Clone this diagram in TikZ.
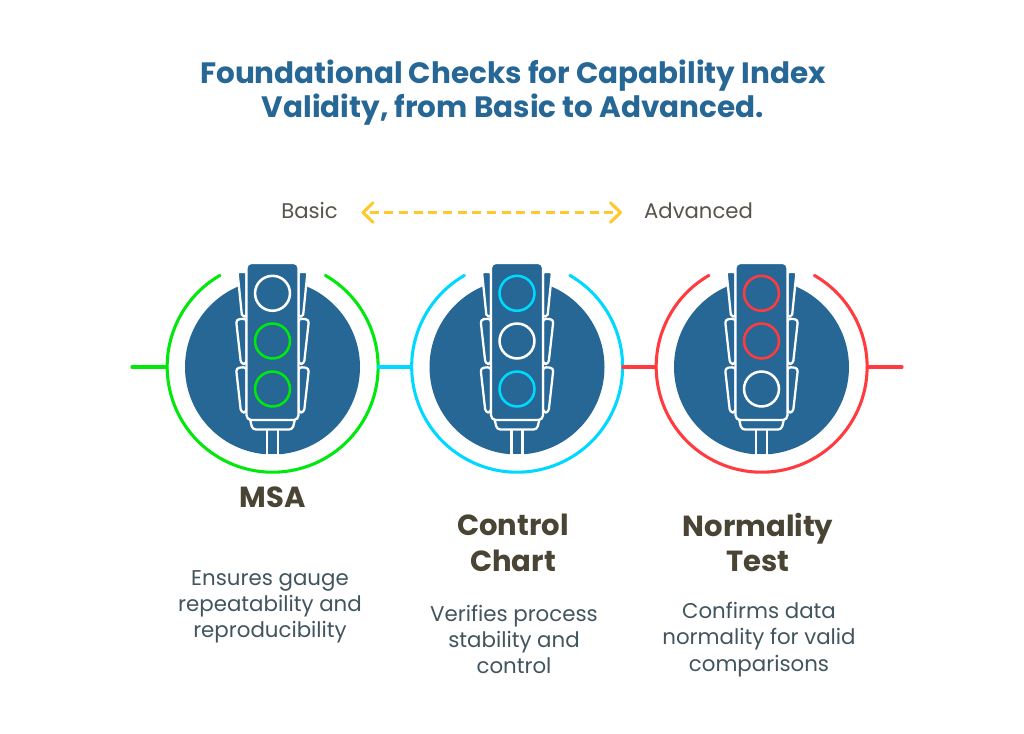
\documentclass[tikz,border=0pt]{standalone}
\usepackage{fontspec}
\setmainfont{Poppins}
\definecolor{signalblue}{HTML}{266796}
\definecolor{signalgreen}{HTML}{00E80C}
\definecolor{signalcyan}{HTML}{00D9FF}
\definecolor{signalred}{HTML}{FF3B3F}
\definecolor{arrowgold}{HTML}{FFC82E}
\definecolor{headtext}{HTML}{4A4435}
\definecolor{bodytext}{HTML}{42555F}
\definecolor{scaletext}{HTML}{58544A}
\tikzset{
  x=0.75pt,y=-0.75pt,
  disc/.style={circle,fill=signalblue,minimum size=131.25pt,inner sep=0pt},
  ringanchor/.style={circle,minimum size=158.25pt,inner sep=0pt},
  lamp/.style={circle,draw=#1,line width=1.9pt,minimum size=26.2pt,inner sep=0pt},
  housing/.style={fill=signalblue,draw=white,line width=1.7pt,line join=round},
  ringline/.style={line width=2.3pt,line cap=round},
  titletext/.style={font=\fontsize{22.1}{26}\selectfont\bfseries,text=signalblue,align=center,anchor=center},
  headlabel/.style={font=\fontsize{21.8}{26.6}\selectfont\bfseries,text=headtext,align=center},
  bodylabel/.style={font=\fontsize{16}{19.7}\selectfont,text=bodytext,align=center},
  scalelabel/.style={font=\fontsize{15.9}{18}\selectfont,text=scaletext},
  goldline/.style={arrowgold,line width=2.3pt},
}
% #1 name #2 centre x #3 ring colour #4,#5,#6 lamp colours
\newcommand{\signalunit}[6]{%
  \node[disc] (disc#1) at (#2,367) {};
  \node[ringanchor] (ring#1) at (#2,367) {};
  \draw[#3,ringline] (ring#1.60) arc[start angle=60,end angle=-240,radius=79.1pt];
  \begin{scope}[shift={(#2,0)}]
    \draw[housing,rounded corners=1.5pt] (-35,272) -- (-26,272) -- (-26,316.5) -- (-30.5,316.5) -- cycle;
    \draw[housing,rounded corners=1.5pt] (35,272) -- (26,272) -- (26,316.5) -- (30.5,316.5) -- cycle;
    \draw[housing,rounded corners=2.5pt] (-36.5,319.5) -- (-26,318.5) -- (-26,364) -- (-31.5,364) -- cycle;
    \draw[housing,rounded corners=2.5pt] (36.5,319.5) -- (26,318.5) -- (26,364) -- (31.5,364) -- cycle;
    \draw[housing,rounded corners=2.5pt] (-36.5,368) -- (-26,367) -- (-26,412.5) -- (-31.5,412.5) -- cycle;
    \draw[housing,rounded corners=2.5pt] (36.5,368) -- (26,367) -- (26,412.5) -- (31.5,412.5) -- cycle;
    \draw[housing] (-5.5,428) rectangle (5.5,455);
    \draw[housing,rounded corners=2.5pt] (-23,417) -- (-20,429.5) -- (20,429.5) -- (23,417) -- cycle;
    \draw[housing,rounded corners=3.5pt] (-26,263) rectangle (26,420);
    \node[lamp=#4] (lamp#1a) at (0,293.3) {};
    \node[lamp=#5] (lamp#1b) at (0,341) {};
    \node[lamp=#6] (lamp#1c) at (0,389) {};
  \end{scope}
}
\begin{document}
\begin{tikzpicture}
\useasboundingbox (0,0) rectangle (1024,734);
\fill[white] (0,0) rectangle (1024,734);
\signalunit{A}{272.5}{signalgreen}{white}{signalgreen}{signalgreen}
\signalunit{B}{517}{signalcyan}{signalcyan}{white}{signalcyan}
\signalunit{C}{761.5}{signalred}{signalred}{signalred}{white}
\coordinate (leftend) at (132,367);
\coordinate (rightend) at (902,367);
\draw[signalgreen,ringline] (leftend) -- (ringA.west);
\draw[signalcyan,ringline] (ringA.east) -- (ringB.west);
\draw[signalred,ringline] (ringB.east) -- (ringC.west);
\draw[signalred,ringline] (ringC.east) -- (rightend);
\node[titletext] (title) at (513,92.5) {Foundational Checks for Capability Index\\Validity, from Basic to Advanced.};
\node[scalelabel] (basic) at (309.5,211) {Basic};
\node[scalelabel] (advanced) at (698.5,211) {Advanced};
\coordinate (arrowL) at (363,212.5);
\coordinate (arrowR) at (620.5,212.5);
\draw[goldline,dash pattern=on 6.8pt off 4.2pt] ([xshift=5pt]arrowL) -- ([xshift=-5pt]arrowR);
\draw[goldline,line cap=round,line join=round] ([shift={(7.5pt,-7.3pt)}]arrowL) -- (arrowL) -- ([shift={(7.5pt,7.3pt)}]arrowL);
\draw[goldline,line cap=round,line join=round] ([shift={(-7.5pt,-7.3pt)}]arrowR) -- (arrowR) -- ([shift={(-7.5pt,7.3pt)}]arrowR);
\node[headlabel] (headA) at (272.5,497) {MSA};
\node[headlabel] (headB) at (513,542.8) {Control\\Chart};
\node[headlabel] (headC) at (758,542.3) {Normality\\Test};
\node[bodylabel] (bodyA) at (270,607) {Ensures gauge\\repeatability and\\reproducibility};
\node[bodylabel] (bodyB) at (514,639.5) {Verifies process\\stability and\\control};
\node[bodylabel] (bodyC) at (759,639.5) {Confirms data\\normality for valid\\comparisons};
\end{tikzpicture}
\end{document}
